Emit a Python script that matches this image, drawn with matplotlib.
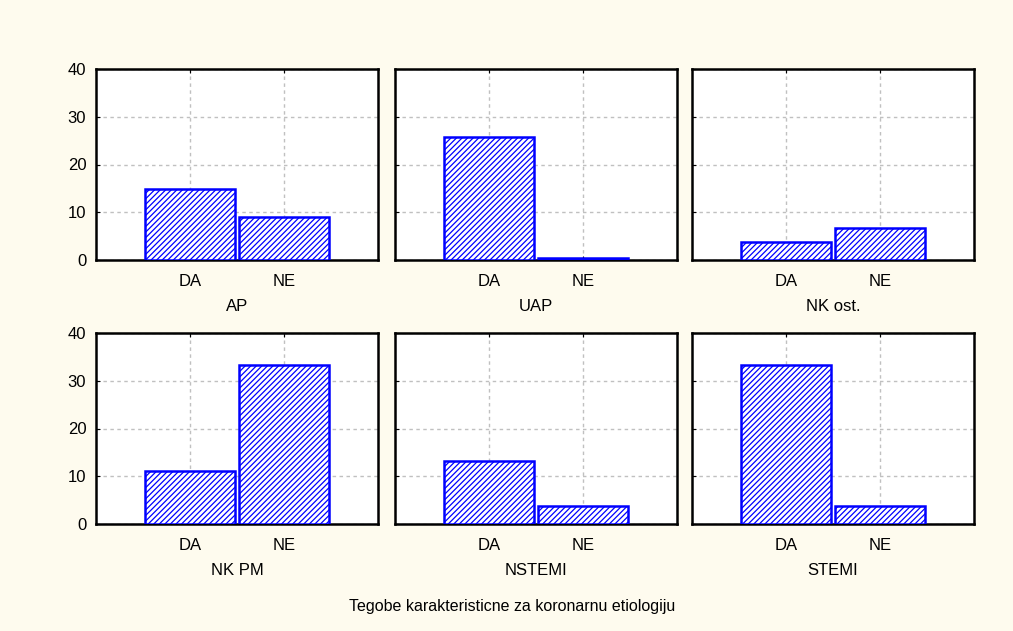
import matplotlib.pyplot as plt
import numpy as np

plt.rcParams['font.family'] = ['Liberation Sans', 'DejaVu Sans']
plt.rcParams['hatch.color'] = '#1a1aff'
plt.rcParams['hatch.linewidth'] = 0.9

# data
categories = ['DA', 'NE']
panels = ['AP', 'UAP', 'NK ost.', 'NK PM', 'NSTEMI', 'STEMI']
values_ap = [14.8, 9.0]
values_uap = [25.8, 0.4]
values_nkost = [3.7, 6.7]
values_nkpm = [11.1, 33.2]
values_nstemi = [13.2, 3.7]
values_stemi = [33.2, 3.7]
all_values = [values_ap, values_uap, values_nkost, values_nkpm, values_nstemi, values_stemi]
yticks = [0, 10, 20, 30, 40]
title = 'Tegobe karakteristicne za koronarnu etiologiju'

bg = '#fefbee'
fig = plt.figure(figsize=(10.13, 6.31), dpi=100, facecolor=bg)

W, H = 1013.0, 631.0
lefts = [96, 395, 692]
bottoms = [260, 524]
aw, ah = 282, 191

x = np.arange(1, len(categories) + 1)
for i, (name, vals) in enumerate(zip(panels, all_values)):
    row, col = divmod(i, 3)
    ax = fig.add_axes([lefts[col] / W, 1 - bottoms[row] / H, aw / W, ah / H])
    ax.set_facecolor('white')
    ax.bar(x, vals, width=0.96, color='white', edgecolor='#0000ff',
           linewidth=1.8, hatch='//////', zorder=3)
    ax.set_xlim(0, 3)
    ax.set_ylim(0, 40)
    ax.set_xticks(x)
    ax.set_xticklabels(categories, fontsize=12)
    ax.set_yticks(yticks)
    if col == 0:
        ax.set_yticklabels([str(t) for t in yticks], fontsize=12)
    else:
        ax.set_yticklabels([])
    ax.tick_params(axis='x', direction='in', length=3, top=True, pad=10)
    ax.tick_params(axis='y', direction='in', length=3, right=False, pad=7)
    ax.grid(True, linestyle=(0, (2.5, 2.5)), color='#c0c0c0', linewidth=1, zorder=0)
    ax.set_axisbelow(True)
    for s in ax.spines.values():
        s.set_linewidth(1.8)
        s.set_color('black')
    ax.set_xlabel(name, fontsize=12, labelpad=7)

fig.text(512 / W, 1 - 607 / H, title, ha='center', va='center', fontsize=11.5)

fig.savefig('out.png', dpi=100, facecolor=bg)
